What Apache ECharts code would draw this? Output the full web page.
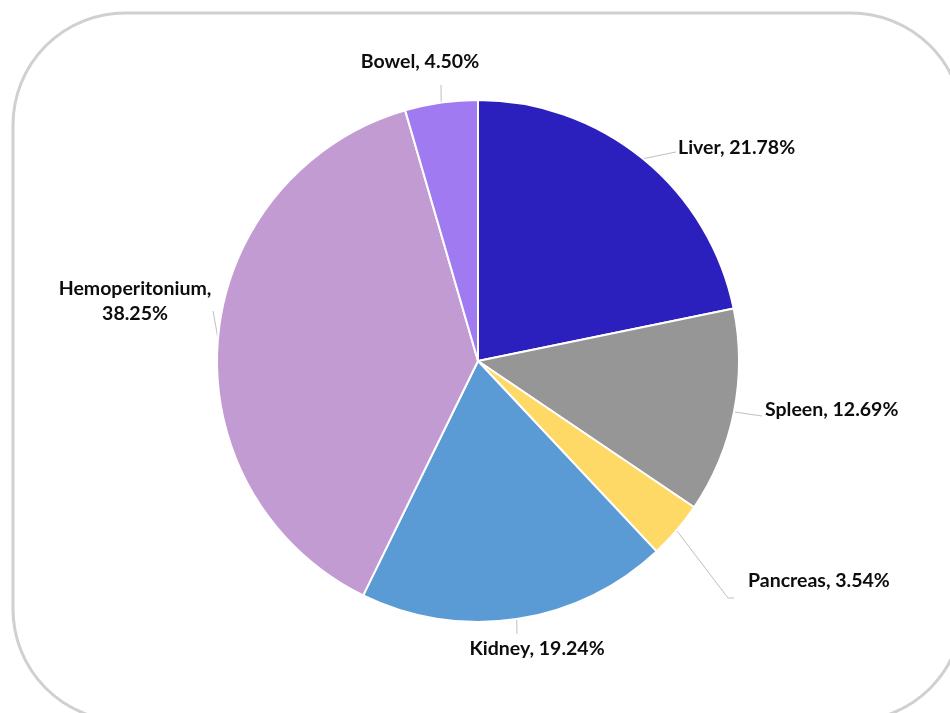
<!DOCTYPE html>
<html>
<head>
<meta charset="utf-8">
<script src="https://cdn.jsdelivr.net/npm/echarts@6/dist/echarts.min.js"></script>
<style>
html,body{margin:0;padding:0;background:#fff;}
#main{width:950px;height:713px;}
</style>
</head>
<body>
<div id="main"></div>
<script>
const categories = ['Liver', 'Spleen', 'Pancreas', 'Kidney', 'Hemoperitonium', 'Bowel'];
const values = [21.78, 12.69, 3.54, 19.24, 38.25, 4.50];
const colors = ['#2B20BE', '#969696', '#FFD966', '#5B9BD5', '#C39BD3', '#A07AF0'];

const CX = 478, CY = 361, R = 261;
const total = values.reduce((a, b) => a + b, 0);
const midAngles = [];
(function () {
  let acc = 0;
  values.forEach(v => { midAngles.push((acc + v / 2) / total * 2 * Math.PI); acc += v; });
})();
function edge(i) {
  const a = midAngles[i];
  return [CX + R * Math.sin(a), CY - R * Math.cos(a)];
}
// label placement (text anchor + line bends)
const labelPlace = {
  Liver: { x: 678, y: 148, align: 'left', bends: [[676, 152]] },
  Spleen: { x: 765, y: 410, align: 'left', bends: [[762, 416]] },
  Pancreas: { x: 748, y: 581, align: 'left', bends: [[728, 598], [734, 598]] },
  Kidney: { x: 537, y: 649, align: 'center', bends: [[517, 634]] },
  Hemoperitonium: { x: 135, y: 301, align: 'center', bends: [[213, 311]] },
  Bowel: { x: 420, y: 62, align: 'center', bends: [[441, 85]] }
};

const chart = echarts.init(document.getElementById('main'));
chart.setOption({
  backgroundColor: '#ffffff',
  animation: false,
  graphic: [{
    type: 'rect',
    z: -10,
    shape: { x: 13, y: 13, width: 950, height: 708, r: 112 },
    style: { fill: '#ffffff', stroke: '#d0d0d0', lineWidth: 3 }
  }],
  series: [{
    type: 'pie',
    center: [CX, CY],
    radius: R,
    startAngle: 90,
    clockwise: true,
    data: categories.map((c, i) => ({ name: c, value: values[i], itemStyle: { color: colors[i] } })),
    itemStyle: { borderColor: '#ffffff', borderWidth: 2 },
    label: {
      show: true,
      position: 'outside',
      color: '#0d0d0d',
      fontFamily: 'Lato',
      fontWeight: 'bold',
      fontSize: 19.5,
      lineHeight: 25,
      formatter: p => p.name === 'Hemoperitonium'
        ? p.name + ',\n' + p.value.toFixed(2) + '%'
        : p.name + ', ' + p.value.toFixed(2) + '%'
    },
    labelLine: { show: true, lineStyle: { color: '#bfbfbf', width: 1 } },
    labelLayout: function (params) {
      const i = params.dataIndex;
      const lp = labelPlace[categories[i]];
      const pts = [edge(i)].concat(lp.bends);
      return {
        x: lp.x,
        y: lp.y,
        align: lp.align,
        verticalAlign: 'middle',
        labelLinePoints: pts
      };
    },
    emphasis: { disabled: true }
  }]
});
</script>
</body>
</html>
